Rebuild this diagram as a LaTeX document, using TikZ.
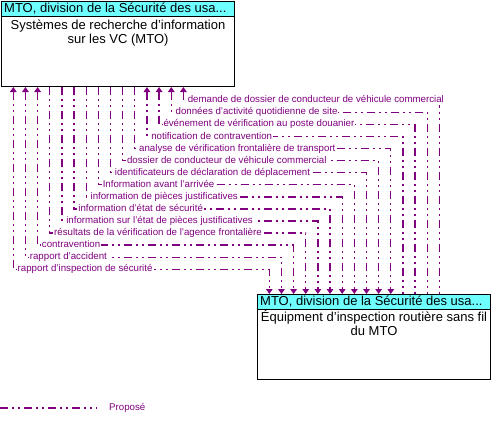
\documentclass[tikz,border=0pt]{standalone}
\usepackage{fontspec}
\setmainfont{Liberation Sans}
\usetikzlibrary{arrows.meta,calc}
\definecolor{flowc}{RGB}{128,0,128}
\definecolor{hdr}{RGB}{110,255,255}
\tikzset{
  boxfont/.style={font=\fontsize{13bp}{14bp}\selectfont},
  sysbox/.style={draw, line width=1bp, anchor=north west, inner sep=0pt, minimum width=233bp, minimum height=85bp},
  hdrbox/.style={draw, fill=hdr, line width=1bp, anchor=north west, inner sep=0pt, minimum width=233bp, minimum height=15bp},
  flow/.style={draw=flowc, line width=1.35bp, dash pattern=on 8bp off 4bp on 2bp off 4bp on 2bp off 4bp},
  toB/.style={-{Triangle[width=6.5bp,length=5bp]}},
  toA/.style={{Triangle[width=6.5bp,length=5bp]}-},
  both/.style={{Triangle[width=6.5bp,length=5bp]}-{Triangle[width=6.5bp,length=5bp]}},
  lbl/.style={anchor=west, fill=white, inner xsep=1bp, inner ysep=0.5bp, text=flowc,
    font=\fontsize{9.7bp}{11bp}\selectfont, text height=7bp, text depth=2bp}
}
\begin{document}
\begin{tikzpicture}[x=1bp,y=-1bp]
\useasboundingbox (0,0) rectangle (498,426);
% top system
\node[sysbox] (A) at (1,1) {};
\node[hdrbox] (Ah) at (A.north west) {};
\node[boxfont, anchor=base west, inner sep=0pt] (At) at ($(Ah.north west)+(3,11.3)$) {MTO, division de la Sécurité des usa...};
\node[boxfont, align=center, anchor=north, inner sep=0pt] (Ab) at ($(Ah.south)+(0,2.4)$) {Systèmes de recherche d’information\\sur les VC (MTO)};
% bottom system
\node[sysbox] (B) at (257,294) {};
\node[hdrbox] (Bh) at (B.north west) {};
\node[boxfont, anchor=base west, inner sep=0pt] (Bt) at ($(Bh.north west)+(3,11.5)$) {MTO, division de la Sécurité des usa...};
\node[boxfont, align=center, anchor=north, inner sep=0pt] (Bb) at ($(Bh.south)+(0,0.5)$) {Équipment d’inspection routière sans fil\\du MTO};
% flows
\foreach \i/\txt/\st in {
  1/{rapport d'inspection de sécurité}/both,
  2/{rapport d'accident}/both,
  3/{contravention}/both,
  4/{résultats de la vérification de l'agence frontalière}/toB,
  5/{information sur l'état de pièces justificatives}/toB,
  6/{information d'état de sécurité}/toB,
  7/{information de pièces justificatives}/toB,
  8/{Information avant l'arrivée}/toB,
  9/{identificateurs de déclaration de déplacement}/toB,
  10/{dossier de conducteur de véhicule commercial}/toB,
  11/{analyse de vérification frontalière de transport}/toB,
  12/{notification de contravention}/toA,
  13/{événement de vérification au poste douanier}/toA,
  14/{données d'activité quotidienne de site}/toA,
  15/{demande de dossier de conducteur de véhicule commercial}/toA}{
  \pgfmathsetmacro\dx{12.3+12.15*(\i-1)}
  \pgfmathsetmacro\yy{269.3-12.07*(\i-1)}
  \coordinate (T\i) at ($(A.south west)+(\dx,0)$);
  \coordinate (U\i) at ($(B.north west)+(\dx,0)$);
  \coordinate (Y\i) at (0,\yy);
  \draw[flow,\st] (T\i) -- (T\i |- Y\i) -- (U\i |- Y\i) -- (U\i);
  \node[lbl] (L\i) at ($(T\i |- Y\i)+(3.2,0)$) {\txt};
}
% legend
\coordinate (G0) at (0,408);
\coordinate (G1) at (97,408);
\draw[flow] (G0) -- (G1);
\node[lbl, fill=none] (GP) at (108,408) {Proposé};
\end{tikzpicture}
\end{document}
